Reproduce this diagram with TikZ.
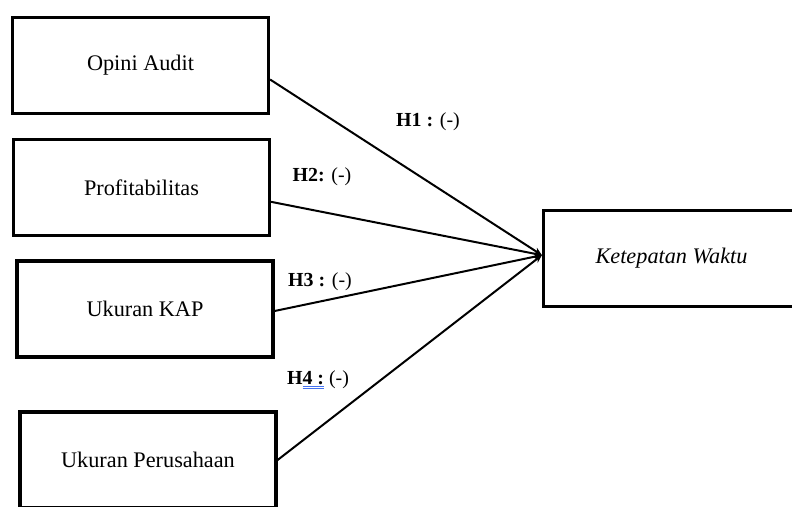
\documentclass[tikz,border=0pt]{standalone}
\usepackage{fontspec}
\setmainfont{Liberation Serif}
\usetikzlibrary{arrows.meta}

\definecolor{spellblue}{HTML}{4472F0}

\newsavebox{\ulbox}
\newcommand{\dblul}[1]{\sbox{\ulbox}{#1}%
  \rlap{\color{spellblue}\rule[-1.6pt]{\wd\ulbox}{0.7pt}}%
  \rlap{\color{spellblue}\rule[-3.6pt]{\wd\ulbox}{0.7pt}}%
  \usebox{\ulbox}}

\begin{document}
\begin{tikzpicture}[x=0.03cm, y=-0.03cm,
    varbox/.style={draw, line width=3pt, fill=white, minimum width=7.67cm,
      minimum height=2.87cm, inner sep=0pt, font=\fontsize{19}{23}\selectfont},
    hyp/.style={inner sep=0pt, font=\fontsize{17}{20}\selectfont},
    link/.style={line width=1.7pt, -{Stealth[length=7pt,width=6pt]}}]
            \useasboundingbox (0,0) rectangle (792,506);
            \clip (0,0) rectangle (792,506);

            % Independent variables
            \node[varbox] (opini) at (140.5,65.5) {Opini Audit};
            \node[varbox] (profit) at (141.5,187.5) {Profitabilitas};
            \node[varbox] (kap) at (145,309) {Ukuran KAP};
            \node[varbox] (perusahaan) at (148,460) {Ukuran Perusahaan};

            % Dependent variable
            \node[varbox, font=\fontsize{19}{23}\selectfont\itshape] (tepat) at (671.5,258.5) {Ketepatan Waktu};
            \coordinate (hub) at ([yshift=0.1cm]tepat.west);

            % Arrows
            \draw[link] ([yshift=-0.42cm]opini.east) -- (hub); % H1
            \draw[link] ([yshift=-0.43cm]profit.east) -- (hub); % H2
            \draw[link] ([yshift=-0.06cm]kap.east) -- (hub); % H3
            \draw[link] (perusahaan.east) -- (hub); % H4

            % Hypotheses
            \node[hyp] (h1) at (428,122) {\textbf{H1 :} (-)};
            \node[hyp] (h2) at (322,177) {\textbf{H2:} (-)};
            \node[hyp] (h3) at (320,282) {\textbf{H3 :} (-)};
            \node[hyp] (h4) at (318,380) {\textbf{H\dblul{4 :}} (-)};

        \end{tikzpicture}
\end{document}
